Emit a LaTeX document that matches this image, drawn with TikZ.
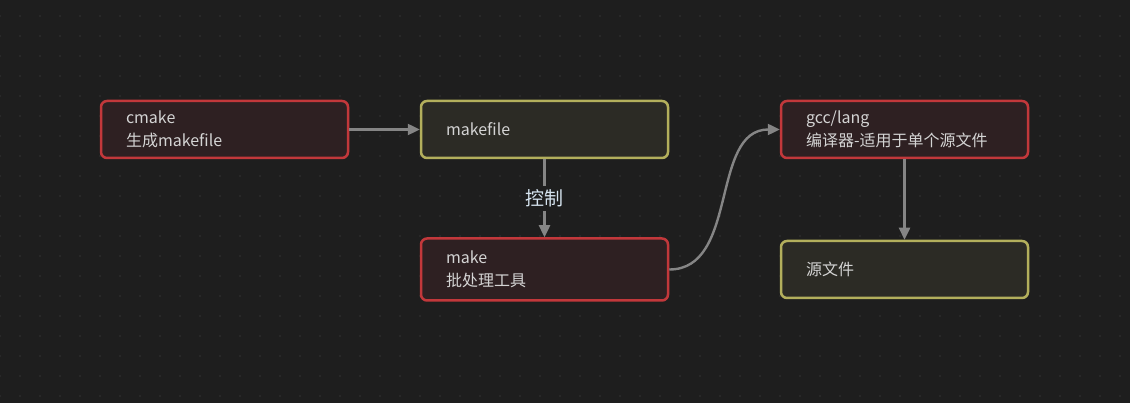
\documentclass[tikz,border=0pt]{standalone}
\usepackage{fontspec}
\newfontfamily\cjk{Noto Sans CJK SC}
\usetikzlibrary{arrows.meta}
\definecolor{bgdark}{HTML}{1E1E1E}
\definecolor{griddot}{HTML}{343434}
\definecolor{redline}{HTML}{C2383B}
\definecolor{redfill}{HTML}{2E2022}
\definecolor{oliveline}{HTML}{B3AF5C}
\definecolor{olivefill}{HTML}{2C2B25}
\definecolor{wiregray}{HTML}{858585}
\definecolor{textgray}{HTML}{D4D4D4}
\definecolor{labelblue}{HTML}{D6E4F0}
\begin{document}
\begin{tikzpicture}[x=1pt, y=-1pt,
    box/.style={draw, line width=2.5pt, rounded corners=6pt, minimum width=247pt,
        minimum height=57pt, inner xsep=25pt, text width=197pt, align=left,
        text=textgray, font=\cjk\fontsize{16}{23.5}\selectfont},
    redbox/.style={box, draw=redline, fill=redfill},
    olivebox/.style={box, draw=oliveline, fill=olivefill},
    wire/.style={draw=wiregray, line width=2.4pt, -{Triangle[length=12pt, width=11pt]}}]
    \fill[bgdark] (0, 0) rectangle (1130, 403);
    \useasboundingbox (0, 0) rectangle (1130, 403);
    \foreach \i in {0,...,56}
        \foreach \j in {0,...,19}
            \fill[griddot] (20*\i, 16+20*\j) circle (0.9pt);
    \node[redbox] (cmake) at (224.5, 129.5) {cmake\\生成makefile};
    \node[olivebox] (makefile) at (544.5, 129.5) {makefile};
    \node[redbox, minimum height=62pt] (make) at (544.5, 269.5) {make\\批处理工具};
    \node[redbox] (gcc) at (904.5, 129.5) {gcc/lang\\编译器-适用于单个源文件};
    \node[olivebox] (source) at (904.5, 269.5) {源文件};
    \draw[wire] (cmake) -- (makefile);
    \draw[wire] (makefile) -- (make) node[midway, fill=bgdark, text=labelblue, inner sep=4pt,
        font=\cjk\fontsize{19}{20}\selectfont] {控制};
    \draw[wire] (make.east) to[out=0, in=180] (gcc.west);
    \draw[wire] (gcc) -- (source);
\end{tikzpicture}
\end{document}
